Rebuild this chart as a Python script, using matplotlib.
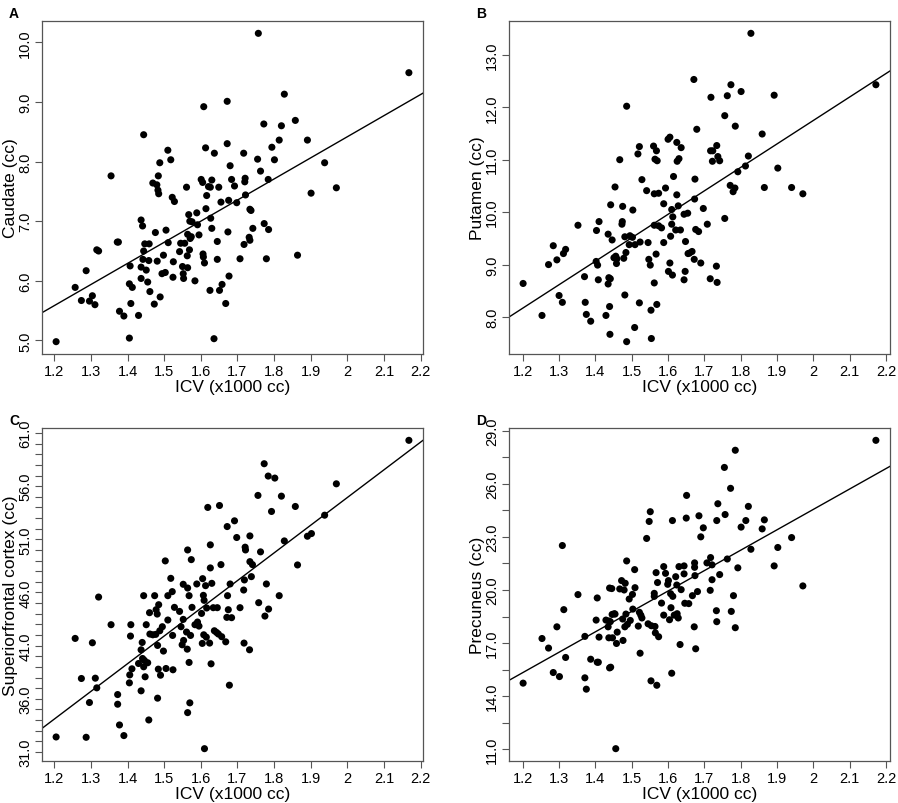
import matplotlib
matplotlib.use("Agg")
import matplotlib.pyplot as plt
import numpy as np

plt.rcParams["font.family"] = ["Liberation Sans", "DejaVu Sans"]

# ICV (x1000 cc) and regional volumes (cc)
icv_a = [1.205, 1.257, 1.274, 1.287, 1.296, 1.304, 1.311, 1.316, 1.321, 1.355,
         1.372, 1.375, 1.378, 1.390, 1.405, 1.405, 1.407, 1.409, 1.413, 1.430,
         1.437, 1.437, 1.437, 1.441, 1.442, 1.444, 1.444, 1.447, 1.451, 1.455,
         1.458, 1.459, 1.461, 1.469, 1.473, 1.476, 1.480, 1.481, 1.483, 1.485,
         1.484, 1.488, 1.489, 1.494, 1.498, 1.503, 1.505, 1.510, 1.511, 1.518,
         1.522, 1.524, 1.525, 1.528, 1.542, 1.545, 1.550, 1.552, 1.553, 1.556,
         1.561, 1.563, 1.564, 1.564, 1.567, 1.569, 1.570, 1.571, 1.574, 1.576,
         1.584, 1.589, 1.591, 1.595, 1.601, 1.605, 1.606, 1.607, 1.608, 1.610,
         1.613, 1.614, 1.616, 1.621, 1.626, 1.625, 1.627, 1.630, 1.630, 1.636,
         1.637, 1.645, 1.645, 1.649, 1.651, 1.655, 1.658, 1.668, 1.672, 1.672,
         1.674, 1.676, 1.677, 1.680, 1.684, 1.692, 1.698, 1.707, 1.717, 1.718,
         1.720, 1.721, 1.722, 1.732, 1.734, 1.734, 1.737, 1.742, 1.755, 1.757,
         1.763, 1.772, 1.773, 1.779, 1.784, 1.785, 1.794, 1.801, 1.814, 1.820,
         1.828, 1.858, 1.864, 1.891, 1.901, 1.938, 1.970, 2.168]
caudate = [4.98, 5.89, 5.67, 6.17, 5.66, 5.75, 5.60, 6.52, 6.50, 7.76,
           6.65, 6.65, 5.49, 5.41, 5.04, 5.95, 6.25, 5.62, 5.89, 5.42,
           6.04, 6.23, 7.02, 6.92, 6.36, 8.45, 6.50, 6.62, 6.18, 5.98,
           6.34, 6.62, 5.82, 7.64, 5.61, 6.81, 7.61, 6.33, 7.52, 7.46,
           7.76, 7.98, 5.73, 6.12, 6.43, 6.14, 6.85, 8.19, 6.64, 8.03,
           7.40, 6.06, 6.32, 7.33, 6.49, 6.63, 6.24, 6.12, 6.04, 6.63,
           7.57, 6.42, 6.22, 6.78, 7.11, 6.52, 7.00, 6.71, 6.74, 6.99,
           6.00, 7.14, 6.94, 6.77, 7.70, 7.65, 6.45, 6.40, 8.92, 6.30,
           8.23, 7.21, 7.43, 7.58, 7.57, 5.84, 7.05, 7.69, 6.88, 5.03,
           8.14, 6.66, 6.36, 7.57, 5.84, 7.32, 5.94, 5.62, 8.30, 9.01,
           6.82, 7.35, 6.08, 7.93, 7.70, 7.59, 7.31, 6.37, 8.14, 6.61,
           7.66, 7.72, 7.44, 6.73, 6.68, 7.20, 7.18, 6.88, 8.04, 10.15,
           7.84, 8.63, 6.96, 6.37, 7.70, 6.86, 8.24, 8.03, 8.36, 8.60,
           9.13, 8.69, 6.43, 8.36, 7.47, 7.98, 7.56, 9.49]

icv_b = [1.201, 1.253, 1.271, 1.284, 1.294, 1.300, 1.309, 1.312, 1.318, 1.352,
         1.370, 1.372, 1.375, 1.387, 1.402, 1.403, 1.406, 1.408, 1.410, 1.429,
         1.435, 1.435, 1.437, 1.439, 1.440, 1.441, 1.442, 1.446, 1.451, 1.454,
         1.456, 1.458, 1.459, 1.467, 1.473, 1.474, 1.475, 1.478, 1.481, 1.481,
         1.484, 1.486, 1.486, 1.493, 1.495, 1.502, 1.503, 1.508, 1.509, 1.517,
         1.521, 1.521, 1.523, 1.528, 1.541, 1.545, 1.547, 1.551, 1.553, 1.554,
         1.560, 1.562, 1.562, 1.562, 1.564, 1.567, 1.568, 1.569, 1.570, 1.574,
         1.574, 1.582, 1.588, 1.588, 1.593, 1.600, 1.601, 1.605, 1.605, 1.607,
         1.610, 1.610, 1.612, 1.613, 1.615, 1.621, 1.624, 1.624, 1.625, 1.630,
         1.628, 1.634, 1.636, 1.644, 1.644, 1.647, 1.648, 1.654, 1.655, 1.659,
         1.666, 1.671, 1.673, 1.674, 1.672, 1.676, 1.679, 1.684, 1.690, 1.697,
         1.708, 1.716, 1.718, 1.717, 1.722, 1.723, 1.733, 1.734, 1.735, 1.737,
         1.742, 1.756, 1.756, 1.763, 1.771, 1.773, 1.779, 1.784, 1.785, 1.792,
         1.801, 1.813, 1.821, 1.828, 1.859, 1.865, 1.892, 1.902, 1.940, 1.971,
         2.172]
putamen = [8.64, 8.03, 9.00, 9.36, 9.09, 8.41, 8.28, 9.21, 9.29, 9.75,
           8.77, 8.28, 8.05, 7.92, 9.06, 9.65, 8.99, 8.71, 9.82, 8.03,
           9.58, 8.63, 8.75, 8.20, 7.67, 8.73, 10.14, 9.47, 9.13, 10.48,
           9.16, 9.02, 9.11, 11.00, 9.77, 9.82, 10.11, 9.12, 8.42, 9.53,
           9.23, 12.02, 7.53, 9.38, 9.55, 9.52, 10.04, 7.80, 9.38, 11.11,
           11.25, 8.27, 9.43, 10.62, 10.41, 9.42, 9.10, 8.99, 8.13, 7.59,
           11.26, 10.35, 8.65, 9.75, 11.01, 9.20, 11.17, 8.24, 10.98, 10.36,
           9.74, 9.70, 9.42, 10.16, 10.46, 11.39, 8.87, 11.43, 9.03, 9.54,
           10.05, 9.77, 8.80, 9.91, 10.68, 9.66, 11.33, 10.33, 10.97, 11.02,
           10.12, 9.66, 11.23, 9.96, 8.71, 8.87, 9.44, 9.98, 9.21, 9.22,
           9.25, 12.53, 10.25, 10.63, 9.10, 9.67, 11.58, 9.63, 9.03, 10.07,
           9.77, 8.73, 12.19, 11.17, 10.97, 11.17, 8.97, 11.27, 8.66, 11.06,
           10.98, 9.88, 11.84, 12.22, 10.51, 12.43, 10.39, 10.46, 11.64, 10.77,
           12.30, 10.88, 11.07, 13.41, 11.49, 10.47, 12.23, 10.84, 10.47, 10.35,
           12.43]

icv_c = [1.205, 1.257, 1.274, 1.287, 1.296, 1.304, 1.312, 1.316, 1.321, 1.355,
         1.373, 1.373, 1.378, 1.390, 1.405, 1.406, 1.409, 1.408, 1.412, 1.430,
         1.437, 1.437, 1.440, 1.441, 1.444, 1.444, 1.446, 1.448, 1.451, 1.455,
         1.458, 1.460, 1.461, 1.469, 1.474, 1.477, 1.478, 1.481, 1.482, 1.482,
         1.484, 1.485, 1.488, 1.490, 1.495, 1.498, 1.503, 1.505, 1.510, 1.510,
         1.518, 1.522, 1.523, 1.524, 1.528, 1.542, 1.546, 1.549, 1.552, 1.553,
         1.552, 1.561, 1.563, 1.564, 1.564, 1.564, 1.568, 1.568, 1.570, 1.572,
         1.574, 1.576, 1.584, 1.589, 1.591, 1.595, 1.602, 1.604, 1.605, 1.607,
         1.608, 1.609, 1.610, 1.613, 1.615, 1.616, 1.619, 1.624, 1.626, 1.626,
         1.628, 1.630, 1.634, 1.637, 1.643, 1.645, 1.648, 1.651, 1.655, 1.657,
         1.668, 1.672, 1.673, 1.675, 1.671, 1.678, 1.680, 1.684, 1.692, 1.698,
         1.707, 1.717, 1.718, 1.719, 1.721, 1.722, 1.733, 1.734, 1.734, 1.741,
         1.738, 1.756, 1.758, 1.763, 1.773, 1.775, 1.779, 1.784, 1.785, 1.793,
         1.802, 1.814, 1.820, 1.828, 1.858, 1.864, 1.891, 1.902, 1.938, 1.970,
         2.168]
superiorfrontal = [32.41, 41.68, 37.91, 32.38, 35.65, 41.27, 37.94, 37.03, 45.57, 42.97,
                   36.40, 35.49, 33.54, 32.54, 37.50, 38.25, 42.97, 41.90, 38.82, 39.32,
                   36.75, 40.61, 41.30, 39.79, 45.70, 39.01, 39.61, 38.07, 42.97, 39.39,
                   34.01, 44.10, 42.09, 42.02, 45.70, 42.06, 44.38, 43.97, 41.02, 36.06,
                   38.79, 44.85, 42.40, 38.22, 42.78, 40.49, 48.97, 38.85, 43.41, 45.70,
                   47.33, 46.08, 41.96, 38.73, 44.60, 44.22, 42.78, 41.08, 43.47, 41.49,
                   46.77, 42.28, 40.67, 34.70, 50.00, 46.42, 45.70, 39.42, 35.62, 41.96,
                   49.09, 44.60, 42.97, 46.80, 43.22, 42.84, 44.03, 41.21, 47.30, 45.73,
                   42.02, 45.26, 31.31, 46.64, 41.80, 44.54, 54.00, 41.24, 50.48, 48.31,
                   39.29, 46.86, 44.57, 42.40, 42.24, 44.57, 42.09, 54.18, 48.62, 41.84,
                   41.36, 52.20, 45.70, 44.38, 43.66, 37.28, 46.80, 43.63, 52.74, 51.17,
                   44.57, 46.23, 41.24, 47.18, 50.26, 50.00, 40.61, 51.32, 48.90, 48.62,
                   47.49, 55.13, 45.04, 49.82, 58.11, 43.78, 46.80, 56.95, 44.44, 53.62,
                   56.76, 45.70, 55.06, 50.85, 54.09, 48.59, 51.29, 51.54, 53.27, 56.22,
                   60.31]

icv_d = [1.201, 1.253, 1.271, 1.284, 1.294, 1.301, 1.309, 1.313, 1.318, 1.352,
         1.371, 1.371, 1.375, 1.387, 1.402, 1.405, 1.405, 1.408, 1.410, 1.429,
         1.435, 1.437, 1.439, 1.437, 1.439, 1.441, 1.442, 1.445, 1.447, 1.446,
         1.452, 1.454, 1.456, 1.458, 1.460, 1.467, 1.472, 1.475, 1.476, 1.479,
         1.482, 1.484, 1.481, 1.486, 1.488, 1.493, 1.496, 1.502, 1.503, 1.508,
         1.509, 1.518, 1.521, 1.523, 1.525, 1.528, 1.541, 1.545, 1.548, 1.551,
         1.553, 1.554, 1.562, 1.562, 1.564, 1.565, 1.569, 1.567, 1.571, 1.574,
         1.582, 1.588, 1.588, 1.593, 1.599, 1.601, 1.604, 1.608, 1.607, 1.610,
         1.612, 1.613, 1.617, 1.621, 1.624, 1.625, 1.630, 1.628, 1.636, 1.633,
         1.644, 1.644, 1.646, 1.651, 1.650, 1.657, 1.667, 1.672, 1.673, 1.673,
         1.674, 1.676, 1.681, 1.685, 1.690, 1.697, 1.707, 1.716, 1.717, 1.721,
         1.721, 1.733, 1.734, 1.734, 1.737, 1.742, 1.755, 1.757, 1.763, 1.772,
         1.774, 1.780, 1.785, 1.785, 1.792, 1.801, 1.814, 1.821, 1.828, 1.859,
         1.865, 1.892, 1.902, 1.940, 1.971, 2.172]
precuneus = [14.74, 17.26, 16.72, 15.34, 17.92, 15.11, 22.51, 18.89, 16.19, 19.74,
             17.38, 15.04, 14.40, 16.09, 18.30, 19.55, 15.92, 15.92, 17.34, 18.30,
             17.92, 18.25, 20.11, 17.30, 15.60, 18.21, 15.64, 20.08, 17.30, 18.62,
             18.66, 18.64, 11.04, 16.98, 17.62, 20.06, 20.53, 18.36, 17.15, 20.00,
             20.38, 18.64, 17.92, 21.64, 18.06, 19.49, 18.28, 19.75, 18.92, 21.15,
             20.13, 17.96, 18.74, 16.43, 18.58, 18.42, 22.91, 18.09, 23.87, 24.42,
             14.87, 17.98, 19.81, 19.64, 17.94, 17.58, 14.62, 20.98, 20.42, 17.36,
             19.26, 18.58, 21.32, 20.94, 20.32, 20.53, 18.32, 19.00, 19.79, 15.30,
             23.92, 19.64, 18.58, 20.75, 20.28, 18.66, 21.32, 18.42, 20.02, 16.92,
             21.36, 20.91, 19.25, 25.34, 24.06, 19.23, 19.68, 17.92, 21.53, 21.28,
             20.81, 16.68, 19.91, 24.19, 23.00, 23.51, 21.53, 19.98, 21.83, 21.42,
             20.58, 18.83, 18.21, 23.92, 24.87, 20.87, 26.92, 24.26, 21.75, 25.74,
             18.79, 19.68, 27.89, 17.87, 21.25, 23.55, 23.92, 24.72, 22.30, 23.45,
             23.96, 21.36, 22.40, 22.96, 20.23, 28.45]

x_ticks = [1.2, 1.3, 1.4, 1.5, 1.6, 1.7, 1.8, 1.9, 2.0, 2.1, 2.2]
x_tick_labels = ["1.2", "1.3", "1.4", "1.5", "1.6", "1.7", "1.8", "1.9", "2", "2.1", "2.2"]

panels = [
    ("A", icv_a, caudate, "Caudate (cc)", np.arange(5, 10.01, 1.0), 1),
    ("B", icv_b, putamen, "Putamen (cc)", np.arange(8, 13.01, 1.0), 1),
    ("C", icv_c, superiorfrontal, "Superiorfrontal cortex (cc)", np.arange(31, 61.01, 1.0), 5),
    ("D", icv_d, precuneus, "Precuneus (cc)", np.arange(11, 29.01, 1.5), 2),
]

W, H = 898, 804
boxes = [(42, 22), (509, 22), (42, 429), (509, 429)]  # left, top in px
bw, bh = 381, 333

fig = plt.figure(figsize=(W / 100, H / 100), dpi=100)

for (letter, xs, ys, ylab, yt, every), (bl, bt) in zip(panels, boxes):
    ax = fig.add_axes([bl / W, 1 - (bt + bh) / H, bw / W, bh / H])
    xs = np.array(xs)
    ys = np.array(ys)
    ax.scatter(xs, ys, s=26, color="black", edgecolors="none", zorder=3)

    # R-style 4% padding
    xr = xs.max() - xs.min()
    yr = ys.max() - ys.min()
    xlim = (xs.min() - 0.04 * xr, xs.max() + 0.04 * xr)
    ax.set_xlim(xlim)
    ax.set_ylim(ys.min() - 0.04 * yr, ys.max() + 0.04 * yr)

    slope, inter = np.polyfit(xs, ys, 1)
    lx = np.array(xlim)
    ax.plot(lx, inter + slope * lx, color="black", lw=1.0, zorder=2)

    ax.set_xticks(x_ticks)
    ax.set_xticklabels(x_tick_labels)
    ax.set_yticks(yt)
    ax.set_yticklabels(["%.1f" % v if i % every == 0 else "" for i, v in enumerate(yt)],
                       rotation=90, va="center")

    ax.tick_params(direction="out", length=5, width=0.8, color="#555555",
                   labelsize=10.5, pad=2)
    for sp in ax.spines.values():
        sp.set_color("#555555")
        sp.set_linewidth(0.9)

    ax.set_xlabel("ICV (x1000 cc)", fontsize=12.5, labelpad=1)
    ax.set_ylabel(ylab, fontsize=12.5, labelpad=0)

    fig.text((bl - 33) / W, 1 - (bt - 15) / H, letter, fontsize=10,
             fontweight="bold", ha="left", va="top")

fig.savefig("out.png", dpi=100)
